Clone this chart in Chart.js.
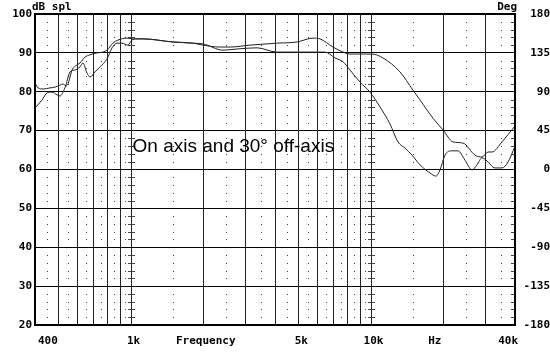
<!DOCTYPE html>
<html>
<head>
<meta charset="utf-8">
<script src="https://cdn.jsdelivr.net/npm/chart.js@4.4.1/dist/chart.umd.min.js"></script>
<style>
  html, body { margin: 0; padding: 0; background: #fff; }
  #wrap { width: 550px; height: 353px; position: relative; }
</style>
</head>
<body>
<div id="wrap"><canvas id="chart"></canvas></div>
<script>
// on-axis / 30 deg off-axis response
const freqP = [400,412,432,462,485,508,523,539,549,571,598,616,646,678,725,768,798,845,887,967,
  1024,1127,1503,1821,2005,2360,2598,3148,4077,4942,5759,6160,6978,7831,8214,10143,11272,13272,15034,16078,
  18212,20048,22066,24293,27252,29144,30864,32076,35304,40000];
const splP = [82.3,81.0,80.7,81.0,81.2,81.7,82.0,81.5,82.0,85.6,86.9,87.4,88.9,89.5,90.0,90.2,90.7,92.5,93.3,93.8,
  93.6,93.6,92.8,92.5,92.0,91.5,91.5,92.0,92.5,92.8,93.8,93.6,91.5,90.0,89.7,89.7,88.7,85.1,80.4,77.9,
  73.2,70.2,67.1,66.8,63.7,63.2,64.5,64.5,67.1,71.2];

const freqF = [400,428,449,471,494,508,533,560,587,616,634,659,678,711,746,798,838,879,922,976,
  1014,1064,1127,1503,1821,2005,2429,2777,3366,4077,6462,7113,7682,8214,9041,9951,10954,12057,13018,13923,
  14891,16078,17694,18742,19479,20436,21856,23150,24762,26483,27780,29144,30572,33016,35304,37400,40000];
const splF = [75.8,77.9,79.7,79.9,79.2,78.9,81.0,85.1,85.6,86.4,87.4,84.8,83.8,85.1,86.4,88.4,91.3,92.5,92.5,92.0,
  93.3,93.6,93.6,92.8,92.5,92.3,90.7,91.0,91.3,90.2,90.2,88.7,87.7,85.6,82.5,79.9,76.1,71.7,67.1,65.5,
  63.7,61.2,59.1,58.3,59.9,63.7,64.8,64.8,62.4,59.9,61.2,63.0,62.2,60.4,60.4,61.9,66.0];

const xTickValues = [400, 1000, 2000, 5000, 10000, 18000, 40000];
const xTickLabels = ["400", "1k", "Frequency", "5k", "10k", "Hz", "40k"];
const lineFreqs = [500,600,700,800,900,1000,2000,3000,4000,5000,6000,7000,8000,9000,10000,20000,30000];
const dotFreqs = [450,550,650,750,850,950,1500,2500,3500,4500,5500,6500,7500,8500,9500,15000,25000,35000];
const noteText = "On axis and 30\u00b0 off-axis";
const noteAt = { f: 1020, db: 64.6 };

const MONO = "'DejaVu Sans Mono', monospace";
const axisFont = { family: MONO, size: 11, weight: "bold" };

const gridPlugin = {
  id: "speakerGrid",
  beforeDatasetsDraw(chart) {
    const { ctx, chartArea: a, scales: { x, y } } = chart;
    ctx.save();
    ctx.fillStyle = "#444";
    dotFreqs.forEach(f => {
      const px = Math.round(x.getPixelForValue(f));
      for (let v = 22; v < 100; v += 2) {
        if (v % 10 === 0) continue;
        ctx.fillRect(px, Math.round(y.getPixelForValue(v)), 1, 1);
      }
    });
    ctx.strokeStyle = "#222";
    ctx.lineWidth = 1;
    lineFreqs.forEach(f => {
      const px = Math.round(x.getPixelForValue(f)) + 0.5;
      ctx.beginPath(); ctx.moveTo(px, a.top); ctx.lineTo(px, a.bottom); ctx.stroke();
    });
    // little ticks on the decade lines and the right frame
    [1000, 10000].forEach(f => {
      const px = Math.round(x.getPixelForValue(f));
      for (let v = 22; v < 100; v += 2) {
        if (v % 10 === 0) continue;
        ctx.fillRect(px - 3, Math.round(y.getPixelForValue(v)), 7, 1);
      }
    });
    for (let v = 22; v < 100; v += 2) {
      if (v % 10 === 0) continue;
      ctx.fillRect(a.right - 4, Math.round(y.getPixelForValue(v)), 4, 1);
    }
    ctx.restore();
  },
  afterDatasetsDraw(chart) {
    const { ctx, chartArea: a, scales: { x, y } } = chart;
    ctx.save();
    ctx.strokeStyle = "#000";
    ctx.lineWidth = 2;
    ctx.strokeRect(a.left, a.top, a.right - a.left, a.bottom - a.top);
    ctx.fillStyle = "#000";
    ctx.font = "bold 11px " + MONO;
    ctx.textBaseline = "alphabetic";
    ctx.textAlign = "left";
    ctx.fillText("dB spl", a.left - 3, 10);
    ctx.textAlign = "right";
    ctx.fillText("Deg", a.right + 2, 10);
    ctx.font = "19px 'Liberation Sans', Arial, sans-serif";
    ctx.textAlign = "left";
    ctx.fillText(noteText, x.getPixelForValue(noteAt.f), y.getPixelForValue(noteAt.db));
    ctx.restore();
  }
};

new Chart(document.getElementById("chart"), {
  type: "line",
  data: {
    datasets: [
      { data: freqP.map((f, i) => ({ x: f, y: splP[i] })), borderColor: "#222", borderWidth: 1,
        pointRadius: 0, cubicInterpolationMode: "monotone", yAxisID: "y" },
      { data: freqF.map((f, i) => ({ x: f, y: splF[i] })), borderColor: "#222", borderWidth: 1,
        pointRadius: 0, cubicInterpolationMode: "monotone", yAxisID: "y" }
    ]
  },
  options: {
    responsive: true, maintainAspectRatio: false, animation: false,
    layout: { padding: { top: 14, left: 0, right: 0, bottom: 0 } },
    plugins: { legend: { display: false }, tooltip: { enabled: false } },
    scales: {
      x: {
        type: "logarithmic", min: 400, max: 40000,
        grid: { display: false }, border: { display: false },
        afterBuildTicks: s => { s.ticks = xTickValues.map(v => ({ value: v })); },
        afterFit: s => { s.height = 28; },
        ticks: { callback: (v, i) => xTickLabels[i], align: "inner", labelOffset: 3, padding: 2,
          maxRotation: 0, autoSkip: false, color: "#000", font: axisFont }
      },
      y: {
        min: 20, max: 100,
        grid: { color: "#000", lineWidth: 1, drawTicks: false }, border: { display: false },
        afterFit: s => { s.width = 35; },
        ticks: { stepSize: 10, padding: 3, color: "#000", font: axisFont }
      },
      y2: {
        position: "right", min: -180, max: 180,
        grid: { display: false, drawTicks: false }, border: { display: false },
        afterFit: s => { s.width = 35; },
        ticks: { stepSize: 45, padding: 2, crossAlign: "far", color: "#000", font: axisFont }
      }
    }
  },
  plugins: [gridPlugin]
});
</script>
</body>
</html>
